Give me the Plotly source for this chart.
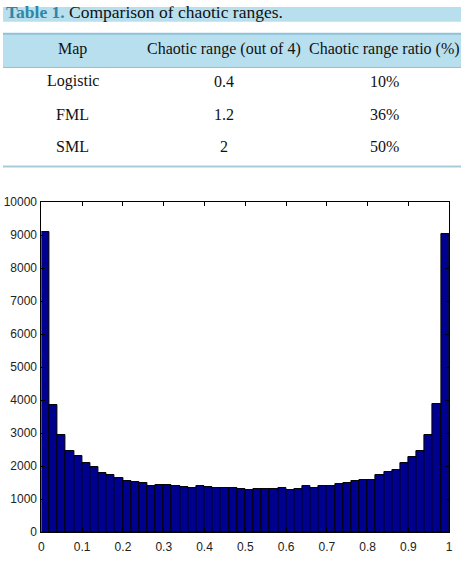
import plotly.graph_objects as go

# ---- table data ----
table_title_bold = "Table 1."
table_title_rest = " Comparison of chaotic ranges."
table_headers = ["Map", "Chaotic range (out of 4)", "Chaotic range ratio (%)"]
maps = ["Logistic", "FML", "SML"]
chaotic_range = ["0.4", "1.2", "2"]
chaotic_ratio = ["10%", "36%", "50%"]

# ---- histogram data (50 bins on [0,1]) ----
bin_width = 0.02
bin_left = [i * bin_width for i in range(50)]
counts = [
    9100, 3840, 2950, 2470, 2320, 2090, 1965, 1800, 1735, 1645,
    1560, 1530, 1497, 1390, 1415, 1438, 1390, 1365, 1350, 1385,
    1365, 1340, 1340, 1325, 1320, 1280, 1300, 1305, 1320, 1325,
    1275, 1300, 1385, 1340, 1410, 1412, 1462, 1500, 1540, 1590,
    1567, 1724, 1823, 1885, 2089, 2266, 2470, 2936, 3892, 9044,
]
x_ticks = [0, 0.1, 0.2, 0.3, 0.4, 0.5, 0.6, 0.7, 0.8, 0.9, 1]
x_tick_text = ["0", "0.1", "0.2", "0.3", "0.4", "0.5", "0.6", "0.7", "0.8", "0.9", "1"]
y_ticks = [0, 1000, 2000, 3000, 4000, 5000, 6000, 7000, 8000, 9000, 10000]
y_tick_text = [str(v) for v in y_ticks]

W, H = 465, 567
def px(x):
    return x / W
def py(y):
    return 1 - y / H

fig = go.Figure()
fig.add_trace(go.Bar(
    x=[b + bin_width / 2 for b in bin_left],
    y=counts,
    width=bin_width,
    marker=dict(color="#00008F", line=dict(color="#000000", width=1)),
    showlegend=False,
    hoverinfo="skip",
))

axis_common = dict(
    showgrid=False, zeroline=False,
    showline=True, linecolor="#000000", linewidth=1, mirror="ticks",
    ticks="inside", ticklen=4, tickcolor="#000000", tickwidth=1,
    tickfont=dict(family="Liberation Sans, Arial, sans-serif", size=12, color="#222222"),
)
fig.update_xaxes(range=[0, 1], tickvals=x_ticks, ticktext=x_tick_text,
                 domain=[px(39), px(453)], ticklabelstandoff=3, **axis_common)
fig.update_yaxes(range=[0, 10000], tickvals=y_ticks, ticktext=y_tick_text,
                 domain=[py(538.5), py(200)], ticklabelstandoff=1, **axis_common)

shapes = []
annotations = []
blue_fill = "#B8DFEE"
blue_line = "#8EC2D8"
serif = "Liberation Serif, Times New Roman, serif"

# title band
shapes.append(dict(type="rect", xref="paper", yref="paper", x0=0, x1=1,
                   y0=py(15), y1=py(0), fillcolor=blue_fill, line=dict(width=0), layer="below"))
annotations.append(dict(
    xref="paper", yref="paper", x=px(1), y=py(5), xanchor="left", yanchor="middle",
    text=f"<b><span style='color:#2F86A6'>{table_title_bold}</span></b>{table_title_rest}",
    showarrow=False, font=dict(family=serif, size=17.5, color="#111111")))

# header band
shapes.append(dict(type="rect", xref="paper", yref="paper", x0=0, x1=1,
                   y0=py(62), y1=py(27.5), fillcolor=blue_fill, line=dict(width=0), layer="below"))
shapes.append(dict(type="line", xref="paper", yref="paper", x0=0, x1=1,
                   y0=py(27.5), y1=py(27.5), line=dict(color=blue_line, width=2)))
shapes.append(dict(type="line", xref="paper", yref="paper", x0=0, x1=1,
                   y0=py(62), y1=py(62), line=dict(color=blue_line, width=1)))
shapes.append(dict(type="line", xref="paper", yref="paper", x0=0, x1=1,
                   y0=py(163.5), y1=py(163.5), line=dict(color="#A9CCDA", width=2)))

col_x = [71, 224, 387]
for cx, h in zip(col_x, table_headers):
    annotations.append(dict(xref="paper", yref="paper", x=px(cx), y=py(43.5),
                            xanchor="center", yanchor="middle", text=h, showarrow=False,
                            font=dict(family=serif, size=16, color="#111111")))
row_y = [76, 110, 143.5]
for ry, m, r, q in zip(row_y, maps, chaotic_range, chaotic_ratio):
    for cx, t in zip(col_x, [m, r, q]):
        annotations.append(dict(xref="paper", yref="paper", x=px(cx), y=py(ry),
                                xanchor="center", yanchor="middle", text=t, showarrow=False,
                                font=dict(family=serif, size=16, color="#111111")))

fig.update_layout(
    width=W, height=H,
    margin=dict(l=0, r=0, t=0, b=0),
    paper_bgcolor="#FFFFFF", plot_bgcolor="#FFFFFF",
    bargap=0,
    shapes=shapes, annotations=annotations,
)

fig.write_html("out.html")
